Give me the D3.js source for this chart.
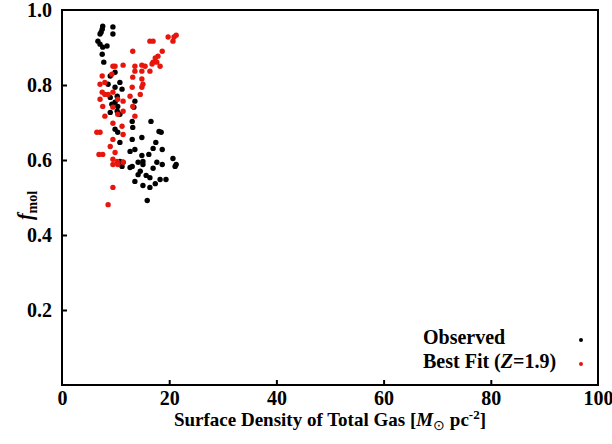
<!DOCTYPE html>
<html>
<head>
<meta charset="utf-8">
<script src="https://cdn.jsdelivr.net/npm/d3@7"></script>
<style>
  body { margin: 0; background: #fff; }
  text { font-family: "Liberation Serif", "Times New Roman", serif; font-weight: bold; }
</style>
</head>
<body>
<div id="chart"></div>
<script>
// observed points: [surface density, f_mol]
var observed = [
  [7.6,0.957],[7.5,0.949],[7.3,0.941],[7.1,0.936],[9.5,0.955],[9.5,0.936],[6.7,0.917],[7.1,0.909],
  [8.4,0.904],[7.6,0.901],[7.5,0.882],[7.8,0.861],
  [9.9,0.834],[9.0,0.824],[10.8,0.807],[8.6,0.802],[9.9,0.794],[11.2,0.789],[9.0,0.767],[10.3,0.770],
  [9.9,0.754],[9.3,0.749],[10.4,0.743],[10.3,0.730],[9.0,0.727],[10.8,0.722],[9.9,0.682],[10.4,0.674],
  [10.8,0.647],[13.1,0.703],[13.2,0.687],[13.1,0.655],[12.7,0.623],[13.6,0.628],[11.4,0.594],[10.8,0.596],
  [14.2,0.594],[11.2,0.583],[12.7,0.580],[13.1,0.583],[14.2,0.561],[13.6,0.543],[13.6,0.757],[13.4,0.741],
  [16.6,0.703],[18.1,0.676],[18.5,0.674],[14.9,0.660],[17.5,0.647],[17.0,0.631],[18.7,0.628],[16.2,0.615],
  [14.9,0.612],[20.7,0.604],[21.3,0.588],[21.1,0.583],[17.7,0.594],[18.7,0.588],[15.1,0.596],[15.1,0.588],
  [17.0,0.578],[14.6,0.570],[15.7,0.559],[16.4,0.553],[18.3,0.548],[19.4,0.548],[15.1,0.532],[16.4,0.527],
  [17.4,0.537],[15.9,0.492]
];

// best fit points (Z = 1.9)
var bestFit = [
  [21.3,0.933],[20.9,0.928],[19.8,0.928],[20.7,0.917],[16.4,0.917],[17.0,0.917],[13.2,0.890],[18.7,0.890],
  [17.9,0.877],[17.4,0.872],[17.0,0.861],[17.7,0.861],[16.8,0.856],[14.9,0.853],[15.5,0.850],[18.3,0.850],
  [11.4,0.853],[9.9,0.850],[9.5,0.850],[13.6,0.850],[14.9,0.837],[16.4,0.837],[14.9,0.816],[15.1,0.802],
  [14.9,0.794],[14.6,0.775],
  [7.5,0.824],[9.3,0.829],[7.1,0.802],[8.0,0.807],[7.5,0.781],[8.0,0.775],[8.6,0.775],[9.5,0.781],
  [7.1,0.762],[10.4,0.762],[11.4,0.757],[7.6,0.743],[9.5,0.741],[11.4,0.730],[10.4,0.722],[8.0,0.717],
  [13.1,0.794],[13.2,0.821],[12.7,0.770],[13.2,0.743],[13.6,0.717],[13.6,0.837],
  [9.5,0.698],[11.2,0.690],[7.1,0.674],[6.5,0.674],[11.4,0.668],[9.5,0.655],[9.0,0.636],[7.6,0.615],
  [6.9,0.615],[9.9,0.620],[9.5,0.602],[10.3,0.596],[11.4,0.594],[9.5,0.588],[10.4,0.588],[9.5,0.527],
  [8.6,0.481]
];

var xTicks = [0, 20, 40, 60, 80, 100];
var yTicks = [0.2, 0.4, 0.6, 0.8, 1.0];

var width = 612, height = 444;
var margin = {top: 10, right: 14, bottom: 59, left: 62};
var w = width - margin.left - margin.right;
var h = height - margin.top - margin.bottom;

var svg = d3.select("#chart").append("svg")
    .attr("width", width)
    .attr("height", height)
    .append("g")
    .attr("transform", "translate(" + margin.left + "," + margin.top + ")");

var x = d3.scaleLinear().domain([0, 100]).range([0, w]);
var y = d3.scaleLinear().domain([0, 1]).range([h, 0]);

//axes with inward ticks
var xAxis = d3.axisBottom(x).tickValues(xTicks).tickSize(-5).tickSizeOuter(0).tickPadding(6)
    .tickFormat(d3.format("d"));
var yAxis = d3.axisLeft(y).tickValues(yTicks).tickSize(-5).tickSizeOuter(0).tickPadding(10)
    .tickFormat(d3.format(".1f"));

var gx = svg.append("g").attr("transform", "translate(0," + h + ")").call(xAxis);
var gy = svg.append("g").call(yAxis);

[gx, gy].forEach(function(g) {
  g.select(".domain").remove();
  g.selectAll(".tick line").attr("stroke", "#000").attr("stroke-width", 2);
  g.selectAll(".tick text").attr("fill", "#000").style("font-size", "20px");
});
// no tick marks on the frame corners
gx.selectAll(".tick").filter(function(d) { return d === 0 || d === 100; }).select("line").remove();
gy.selectAll(".tick").filter(function(d) { return d === 1; }).select("line").remove();
gx.selectAll(".tick text").attr("dy", "0.71em");

//frame
svg.append("rect")
    .attr("x", 0).attr("y", 0)
    .attr("width", w).attr("height", h)
    .attr("fill", "none")
    .attr("stroke", "#000")
    .attr("stroke-width", 2);

//points
svg.selectAll(".obs").data(observed).enter().append("circle")
    .attr("class", "obs")
    .attr("cx", function(d) { return x(d[0]); })
    .attr("cy", function(d) { return y(d[1]); })
    .attr("r", 2.7)
    .attr("fill", "#000");

svg.selectAll(".fit").data(bestFit).enter().append("circle")
    .attr("class", "fit")
    .attr("cx", function(d) { return x(d[0]); })
    .attr("cy", function(d) { return y(d[1]); })
    .attr("r", 2.7)
    .attr("fill", "#e8150c");

//legend
var legend = svg.append("g").attr("transform", "translate(" + (w - 175) + "," + (h - 41) + ")");
legend.append("text").attr("x", 0).attr("y", 0).style("font-size", "20px").text("Observed");
legend.append("circle").attr("cx", 158).attr("cy", -4).attr("r", 2).attr("fill", "#000");
var lt = legend.append("text").attr("x", 0).attr("y", 24).style("font-size", "20px");
lt.append("tspan").text("Best Fit (");
lt.append("tspan").style("font-style", "italic").text("Z");
lt.append("tspan").text("=1.9)");
legend.append("circle").attr("cx", 158).attr("cy", 20).attr("r", 2).attr("fill", "#e8150c");

//x label
var xl = svg.append("text")
    .attr("x", w / 2).attr("y", h + 41)
    .attr("text-anchor", "middle")
    .style("font-size", "19px");
xl.append("tspan").text("Surface Density of Total Gas [");
xl.append("tspan").style("font-style", "italic").text("M");
xl.append("tspan").attr("dy", 4).style("font-size", "14px").style("font-weight", "normal").text("\u2299");
xl.append("tspan").attr("dy", -4).text(" pc");
xl.append("tspan").attr("dy", -7).style("font-size", "13px").text("-2");
xl.append("tspan").attr("dy", 7).text("]");

//y label
var yl = svg.append("text")
    .attr("transform", "translate(-30," + (h / 2 + 8) + ") rotate(-90)")
    .attr("text-anchor", "middle")
    .style("font-size", "20px");
yl.append("tspan").style("font-style", "italic").text("f");
yl.append("tspan").attr("dy", 5).style("font-size", "14px").text("mol");
</script>
</body>
</html>
